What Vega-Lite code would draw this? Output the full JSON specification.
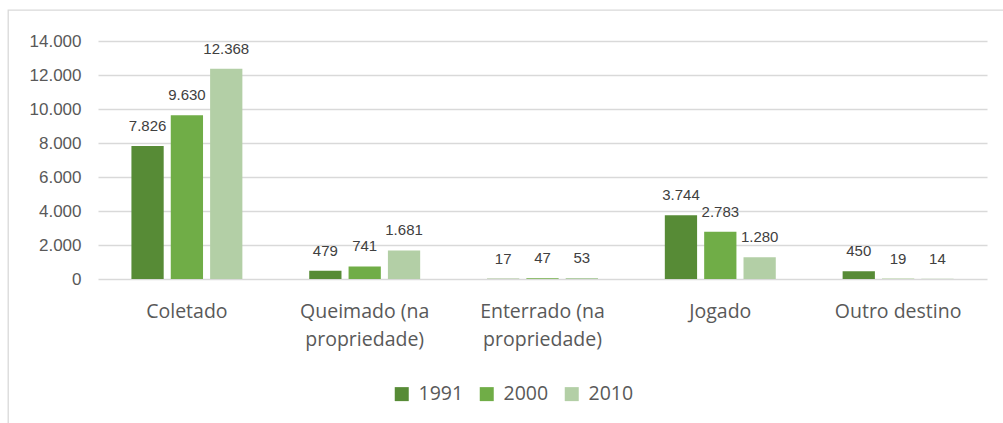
{
  "$schema": "https://vega.github.io/schema/vega-lite/v6.json",
  "width": 998,
  "height": 416,
  "autosize": {"type": "none"},
  "padding": {"left": 8, "top": 10, "right": -3, "bottom": -3},
  "background": "white",
  "config": {
    "locale": {"number": {"decimal": ",", "thousands": ".", "grouping": [3], "currency": ["R$", ""]}},
    "view": {"stroke": "#D9D9D9", "strokeWidth": 1.3}
  },
  "data": {
    "values": [
      {"destino": "Coletado", "ano": "1991", "valor": 7826},
      {"destino": "Coletado", "ano": "2000", "valor": 9630},
      {"destino": "Coletado", "ano": "2010", "valor": 12368},
      {"destino": "Queimado (na propriedade)", "ano": "1991", "valor": 479},
      {"destino": "Queimado (na propriedade)", "ano": "2000", "valor": 741},
      {"destino": "Queimado (na propriedade)", "ano": "2010", "valor": 1681},
      {"destino": "Enterrado (na propriedade)", "ano": "1991", "valor": 17},
      {"destino": "Enterrado (na propriedade)", "ano": "2000", "valor": 47},
      {"destino": "Enterrado (na propriedade)", "ano": "2010", "valor": 53},
      {"destino": "Jogado", "ano": "1991", "valor": 3744},
      {"destino": "Jogado", "ano": "2000", "valor": 2783},
      {"destino": "Jogado", "ano": "2010", "valor": 1280},
      {"destino": "Outro destino", "ano": "1991", "valor": 450},
      {"destino": "Outro destino", "ano": "2000", "valor": 19},
      {"destino": "Outro destino", "ano": "2010", "valor": 14}
    ]
  },
  "encoding": {
    "x": {
      "field": "destino",
      "type": "nominal",
      "sort": ["Coletado", "Queimado (na propriedade)", "Enterrado (na propriedade)", "Jogado", "Outro destino"],
      "scale": {"range": [90, 979], "paddingInner": 0.376, "paddingOuter": 0.188},
      "axis": {
        "title": null,
        "orient": "bottom",
        "offset": -147,
        "domain": false,
        "ticks": false,
        "grid": false,
        "labelAngle": 0,
        "labelPadding": 23,
        "labelFont": "Open Sans",
        "labelFontSize": 19.5,
        "labelColor": "#595959",
        "labelLineHeight": 28,
        "labelExpr": "split(replace(datum.label, ' (na ', ' (na|'), '|')"
      }
    },
    "xOffset": {
      "field": "ano",
      "type": "nominal",
      "scale": {"paddingInner": 0.18, "paddingOuter": 0}
    },
    "y": {
      "field": "valor",
      "type": "quantitative",
      "scale": {"domain": [0, 14000], "range": [269, 31]},
      "axis": {
        "title": null,
        "offset": -81,
        "domain": false,
        "ticks": false,
        "grid": true,
        "gridColor": "#D9D9D9",
        "gridWidth": 1.3,
        "values": [0, 2000, 4000, 6000, 8000, 10000, 12000, 14000],
        "format": ",d",
        "labelPadding": 8,
        "labelFont": "Liberation Sans",
        "labelFontSize": 17,
        "labelColor": "#595959"
      }
    }
  },
  "layer": [
    {
      "mark": {"type": "bar"},
      "encoding": {
        "color": {
          "field": "ano",
          "type": "nominal",
          "scale": {"domain": ["1991", "2000", "2010"], "range": ["#578B36", "#70AD47", "#B3CFA6"]},
          "legend": {
            "orient": "none",
            "legendX": 384,
            "legendY": 374,
            "direction": "horizontal",
            "title": null,
            "symbolType": "square",
            "symbolSize": 196,
            "symbolStrokeWidth": 0,
            "labelFont": "Open Sans",
            "labelFontSize": 19.5,
            "labelColor": "#595959",
            "labelOffset": 7,
            "columnPadding": 13
          }
        }
      }
    },
    {
      "mark": {"type": "text", "baseline": "alphabetic", "dy": -15, "font": "Liberation Sans", "fontSize": 15, "color": "#404040"},
      "encoding": {
        "text": {"field": "valor", "type": "quantitative", "format": ",d"}
      }
    }
  ]
}
